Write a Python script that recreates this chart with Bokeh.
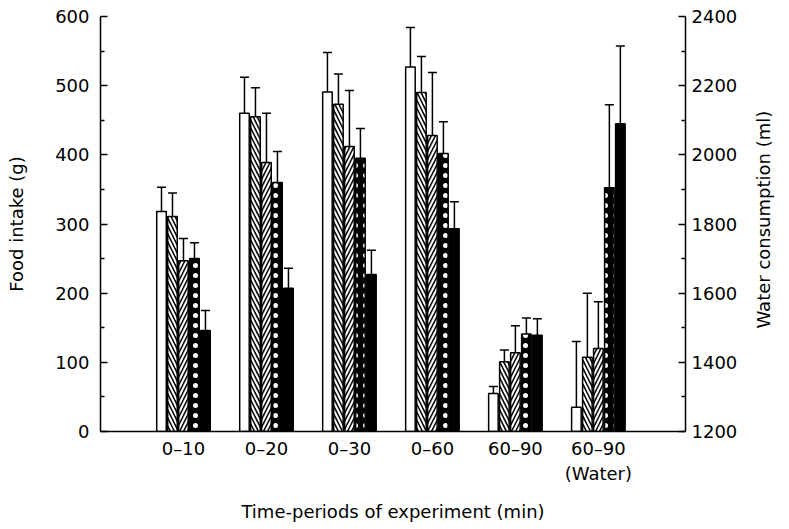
import math
from bokeh.plotting import figure
from bokeh.models import (Range1d, LinearAxis, FixedTicker, ColumnDataSource,
                          Whisker, TeeHead)
from bokeh.embed import file_html
from bokeh.resources import INLINE

# ---------------- data ----------------
periods = ["0\u201310", "0\u201320", "0\u201330", "0\u201360", "60\u201390", "60\u201390\n(Water)"]

# food intake (g) for the first five periods, one list per treatment bar
food_s1 = [318, 460, 491, 527, 55]
food_s2 = [311, 455, 473, 490, 101]
food_s3 = [247, 389, 412, 428, 114]
food_s4 = [250, 360, 395, 402, 141]
food_s5 = [146, 207, 227, 293, 139]

food_e1 = [35, 52, 57, 57, 10]
food_e2 = [34, 42, 44, 52, 17]
food_e3 = [32, 71, 81, 91, 39]
food_e4 = [23, 45, 43, 46, 23]
food_e5 = [29, 29, 35, 39, 24]

# water consumption (ml) 60-90 min, treatments 1..5
water_vals = [1270, 1415, 1440, 1905, 2090]
water_errs = [190, 185, 135, 240, 225]

food_ticks = [0, 100, 200, 300, 400, 500, 600]
water_ticks = [1200, 1400, 1600, 1800, 2000, 2200, 2400]

# ---------------- styles ----------------
FONT = "DejaVu Sans"
FS = "18px"
styles = [
    dict(fill_color="white"),
    dict(fill_color="white", hatch_pattern="left_diagonal_line", hatch_color="black",
         hatch_weight=1.5, hatch_scale=8),
    dict(fill_color="white", hatch_pattern="right_diagonal_line", hatch_color="black",
         hatch_weight=1.5, hatch_scale=8),
    dict(fill_color="black", hatch_pattern="dot", hatch_color="white",
         hatch_weight=6, hatch_scale=10),
    dict(fill_color="black"),
]
offsets = [-0.265, -0.1325, 0.0, 0.1325, 0.265]
BW = 0.115

p = figure(width=789, height=529, output_backend="svg", toolbar_location=None,
           x_range=Range1d(-1.0, 6.05), y_range=Range1d(0, 600),
           min_border_left=100, min_border_right=104, min_border_top=16,
           min_border_bottom=98)
p.extra_y_ranges = {"water": Range1d(1200, 2400)}
p.outline_line_color = None
p.grid.visible = False

food_series = [food_s1, food_s2, food_s3, food_s4, food_s5]
food_errs = [food_e1, food_e2, food_e3, food_e4, food_e5]

for k in range(5):
    xs = [i + offsets[k] for i in range(len(food_series[k]))]
    vals = food_series[k]
    tops = [v + e for v, e in zip(vals, food_errs[k])]
    src = ColumnDataSource(dict(x=xs, top=vals, upper=tops))
    p.vbar(x="x", top="top", bottom=0, width=BW, source=src,
           line_color="black", line_width=1.5, **styles[k])
    p.add_layout(Whisker(base="x", lower="top", upper="upper", source=src,
                         line_width=1.5, line_color="black",
                         upper_head=TeeHead(size=9, line_width=1.5),
                         lower_head=None))

# water group (right axis)
wi = len(periods) - 1
for k in range(5):
    src = ColumnDataSource(dict(x=[wi + offsets[k]], top=[water_vals[k]],
                                upper=[water_vals[k] + water_errs[k]]))
    p.vbar(x="x", top="top", bottom=1200, width=BW, source=src, y_range_name="water",
           line_color="black", line_width=1.5, **styles[k])
    p.add_layout(Whisker(base="x", lower="top", upper="upper", source=src,
                         y_range_name="water",
                         line_width=1.5, line_color="black",
                         upper_head=TeeHead(size=9, line_width=1.5),
                         lower_head=None))

# ---------------- axes ----------------
def style_axis(ax):
    ax.axis_line_width = 1.5
    ax.major_tick_line_width = 1.5
    ax.minor_tick_line_width = 1.5
    ax.major_label_text_font = FONT
    ax.major_label_text_font_size = FS
    ax.major_label_text_color = "black"
    ax.axis_label_text_font = FONT
    ax.axis_label_text_font_size = FS
    ax.axis_label_text_font_style = "normal"
    ax.axis_label_text_color = "black"

ya = p.yaxis[0]
ya.ticker = FixedTicker(ticks=food_ticks,
                        minor_ticks=[t + 50 for t in food_ticks[:-1]])
ya.major_tick_in = 7
ya.major_tick_out = 0
ya.minor_tick_in = 4
ya.minor_tick_out = 0
ya.major_label_standoff = 11
ya.axis_label = "Food intake (g)"
ya.axis_label_standoff = 25
style_axis(ya)

# rotated label reads bottom-to-top; anchored at the axis start, lifted by
# non-breaking spaces so that it sits centred along the axis
ra = LinearAxis(y_range_name="water",
                axis_label="\u00a0" * 18 + "Water consumption (ml)")
ra.ticker = FixedTicker(ticks=water_ticks,
                        minor_ticks=[t + 100 for t in water_ticks[:-1]])
ra.major_tick_in = 7
ra.major_tick_out = 0
ra.minor_tick_in = 4
ra.minor_tick_out = 0
ra.major_label_standoff = 6
ra.axis_label_standoff = 23
ra.axis_label_orientation = math.pi / 2
ra.axis_label_align = "start"
style_axis(ra)
p.add_layout(ra, "right")

xa = p.xaxis[0]
xa.ticker = FixedTicker(ticks=list(range(len(periods))), minor_ticks=[])
xa.major_label_overrides = {i: lab for i, lab in enumerate(periods)}
xa.major_tick_in = 0
xa.major_tick_out = 0
xa.major_label_standoff = 6
xa.axis_label = "Time-periods of experiment (min)"
xa.axis_label_standoff = 14
style_axis(xa)

open("out.html", "w").write(file_html(p, INLINE))
